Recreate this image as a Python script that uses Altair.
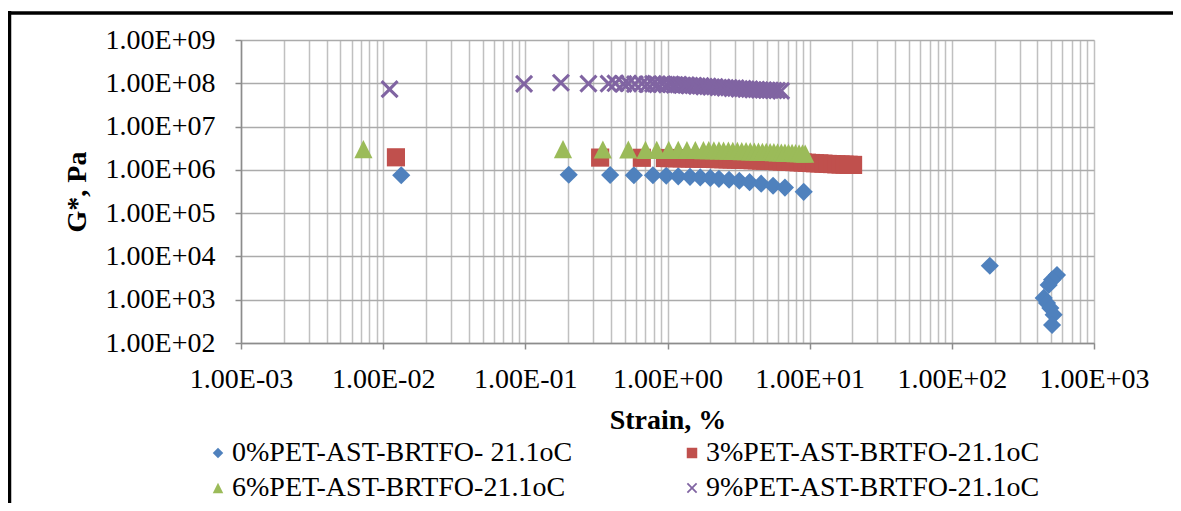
import altair as alt
import pandas as pd

# ---------------- data ----------------
series_names = [
    "0%PET-AST-BRTFO- 21.1oC",
    "3%PET-AST-BRTFO-21.1oC",
    "6%PET-AST-BRTFO-21.1oC",
    "9%PET-AST-BRTFO-21.1oC",
]
series_colors = ["#4F81BD", "#C0504D", "#9BBB59", "#8064A2"]

strain_0 = [0.0134, 0.202, 0.395, 0.58, 0.79, 0.98, 1.19, 1.44, 1.70, 2.0, 2.3, 2.71,
            3.2, 3.78, 4.56, 5.53, 6.7, 9.08, 185, 549, 507, 480, 443, 467, 493, 520, 507]
g_0 = [7.5e5, 7.7e5, 7.6e5, 7.5e5, 7.5e5, 7.3e5, 7.1e5, 6.9e5, 6.7e5, 6.5e5, 6.2e5, 5.9e5,
       5.6e5, 5.2e5, 4.8e5, 4.3e5, 3.9e5, 3.1e5, 6.1e3, 3.7e3, 2.9e3, 2.2e3, 1.1e3, 8.4e2,
       6.4e2, 4.5e2, 2.6e2]

strain_3 = [0.0123, 0.336, 0.66, 0.96, 1.03, 1.1, 1.18, 1.26, 1.35, 1.44, 1.54, 1.65, 1.77,
            1.89, 2.02, 2.16, 2.31, 2.47, 2.65, 2.83, 3.03, 3.24, 3.47, 3.71, 3.97, 4.25,
            4.55, 4.86, 5.2, 5.57, 5.96, 6.37, 6.82, 7.3, 7.81, 8.35, 8.94, 9.56, 10.2,
            10.9, 11.7, 12.5, 13.4, 14.4, 15.4, 16.5, 17.6, 18.8, 20.2]
g_3 = [1.95e6, 1.92e6, 1.9e6, 1.88e6, 1.87e6, 1.87e6, 1.86e6, 1.85e6, 1.85e6, 1.84e6,
       1.83e6, 1.82e6, 1.81e6, 1.8e6, 1.79e6, 1.78e6, 1.77e6, 1.76e6, 1.75e6, 1.74e6,
       1.73e6, 1.71e6, 1.7e6, 1.69e6, 1.67e6, 1.66e6, 1.64e6, 1.63e6, 1.61e6, 1.6e6,
       1.58e6, 1.56e6, 1.55e6, 1.53e6, 1.51e6, 1.49e6, 1.48e6, 1.46e6, 1.44e6, 1.42e6,
       1.41e6, 1.39e6, 1.37e6, 1.36e6, 1.34e6, 1.33e6, 1.32e6, 1.31e6, 1.3e6]

strain_6 = [0.00726, 0.184, 0.351, 0.53, 0.70, 0.84, 1.02, 1.19, 1.37, 1.57, 1.79, 1.95,
            2.12, 2.3, 2.48, 2.68, 2.88, 3.1, 3.33, 3.57, 3.82, 4.08, 4.36, 4.65, 4.95,
            5.27, 5.6, 5.95, 6.32, 6.7, 7.1, 7.52, 7.96, 8.42, 8.9, 9.3]
g_6 = [3.0e6, 3.0e6, 2.95e6, 2.95e6, 2.9e6, 2.9e6, 2.9e6, 2.9e6, 2.88e6, 2.88e6,
       2.86e6, 2.85e6, 2.84e6, 2.82e6, 2.8e6, 2.78e6, 2.76e6, 2.74e6, 2.72e6, 2.7e6,
       2.68e6, 2.66e6, 2.64e6, 2.62e6, 2.6e6, 2.58e6, 2.56e6, 2.54e6, 2.52e6, 2.5e6,
       2.48e6, 2.46e6, 2.44e6, 2.42e6, 2.4e6, 2.38e6]

strain_9 = [0.0111, 0.098, 0.178, 0.278, 0.385, 0.43, 0.49, 0.53, 0.59, 0.66,
            0.72, 0.79, 0.85, 0.92, 0.99, 1.05, 1.12, 1.19, 1.27, 1.35,
            1.43, 1.52, 1.61, 1.71, 1.81, 1.92, 2.03, 2.15, 2.28, 2.41,
            2.55, 2.7, 2.86, 3.02, 3.2, 3.38, 3.57, 3.78, 4.0, 4.22,
            4.46, 4.72, 4.99, 5.27, 5.57, 5.9, 6.3]
g_9 = [7.3e7, 9.7e7, 1.03e8, 9.8e7, 9.8e7, 1.0e8, 9.7e7, 9.9e7, 9.6e7, 9.8e7,
       9.5e7, 9.7e7, 9.4e7, 9.6e7, 9.3e7, 9.5e7, 9.2e7, 9.3e7, 9.0e7, 9.1e7,
       8.8e7, 8.9e7, 8.6e7, 8.7e7, 8.4e7, 8.5e7, 8.2e7, 8.3e7, 8.0e7, 8.1e7,
       7.8e7, 7.9e7, 7.6e7, 7.7e7, 7.4e7, 7.5e7, 7.3e7, 7.3e7, 7.1e7, 7.2e7,
       7.0e7, 7.0e7, 6.9e7, 6.9e7, 6.8e7, 6.8e7, 6.7e7]

x_decades = [1e-3, 1e-2, 1e-1, 1e0, 1e1, 1e2, 1e3]
y_decades = [1e2, 1e3, 1e4, 1e5, 1e6, 1e7, 1e8, 1e9]
minor_steps = [1, 2, 3, 4, 5, 6, 7, 8, 9]

# ---------------- table ----------------
frames = []
for name, xs, ys in zip(series_names, [strain_0, strain_3, strain_6, strain_9],
                        [g_0, g_3, g_6, g_9]):
    assert len(xs) == len(ys)
    frames.append(pd.DataFrame({"series": name, "strain": xs, "g": ys}))
df = pd.concat(frames, ignore_index=True)

x_grid_values = [d * m for d in x_decades[:-1] for m in minor_steps] + [x_decades[-1]]

# marker outlines (unit square coordinates)
series_shapes = [
    "M0,-1L1,0L0,1L-1,0Z",
    "M-1,-1L1,-1L1,1L-1,1Z",
    "M0,-1L1,1L-1,1Z",
    "M0,-0.24L0.76,-1L1,-0.76L0.24,0L1,0.76L0.76,1L0,0.24L-0.76,1L-1,0.76L-0.24,0L-1,-0.76L-0.76,-1Z",
]

FONT = "Liberation Serif"
LOG10 = "(log(datum.value)/LN10)"
IS_DECADE = f"abs({LOG10} - round({LOG10})) < 1e-6"
LABEL = (f"{IS_DECADE} ? '1.00E' + ({LOG10} < 0 ? '-' : '+') + "
         f"(abs(round({LOG10})) < 10 ? '0' : '') + abs(round({LOG10})) : ''")

legend = alt.Legend(
    orient="none", legendX=-37, legendY=399, direction="horizontal", columns=2,
    columnPadding=105, rowPadding=7, labelFont=FONT, labelFontSize=28,
    labelColor="black", labelLimit=0, labelOffset=0, symbolSize=110,
    symbolStrokeWidth=0, title=None, padding=0,
)

points = alt.Chart(df).mark_point(filled=True, size=330, opacity=1).encode(
    x=alt.X(
        "strain:Q",
        scale=alt.Scale(type="log", domain=[1e-3, 1e3], nice=False),
        axis=alt.Axis(
            values=x_grid_values, labelExpr=LABEL, labelFlush=False, labelOverlap=False,
            grid=True, gridColor="#C0C0C0", gridWidth=1.5,
            tickOpacity={"condition": {"test": IS_DECADE, "value": 1}, "value": 0},
            tickSize=6, tickColor="#8C8C8C", tickWidth=1.5,
            domainColor="#8C8C8C", domainWidth=1.5,
            labelFont=FONT, labelFontSize=28, labelColor="black", labelPadding=16,
            title="Strain, %", titleFont=FONT, titleFontSize=28, titleFontWeight="bold",
            titleColor="black", titlePadding=13,
        ),
    ),
    y=alt.Y(
        "g:Q",
        scale=alt.Scale(type="log", domain=[1e2, 1e9], nice=False),
        axis=alt.Axis(
            values=y_decades, labelExpr=LABEL, labelFlush=False, labelOverlap=False,
            grid=True, gridColor="#ABABAB", gridWidth=1.5,
            tickSize=6, tickColor="#8C8C8C", tickWidth=1.5,
            domainColor="#8C8C8C", domainWidth=1.5,
            labelFont=FONT, labelFontSize=28, labelColor="black", labelPadding=20,
            title="G*, Pa", titleFont=FONT, titleFontSize=28, titleFontWeight="bold",
            titleColor="black", titlePadding=14,
        ),
    ),
    color=alt.Color("series:N", scale=alt.Scale(domain=series_names, range=series_colors),
                    legend=legend),
    shape=alt.Shape("series:N", scale=alt.Scale(domain=series_names, range=series_shapes),
                    legend=legend),
    order=alt.Order("order_key:Q"),
).transform_calculate(order_key="indexof(" + str(series_names).replace("'", '"') + ", datum.series)")

anchor = pd.DataFrame({"k": [0]})
frame_left = alt.Chart(anchor).mark_rule(color="black", strokeWidth=3.5).encode(
    x=alt.value(-231.5), y=alt.value(-29), y2=alt.value(470))
frame_top = alt.Chart(anchor).mark_rule(color="black", strokeWidth=3.5).encode(
    x=alt.value(-233), x2=alt.value(940), y=alt.value(-27))

chart = alt.layer(points, frame_left, frame_top).properties(
    width=853, height=303,
    autosize=alt.AutoSizeParams(type="none"),
    padding={"left": 233, "top": 32, "right": 79, "bottom": 160},
).configure_view(stroke=None).configure(background="white")

chart.save("out.html", embed_options={"renderer": "svg", "actions": False})
